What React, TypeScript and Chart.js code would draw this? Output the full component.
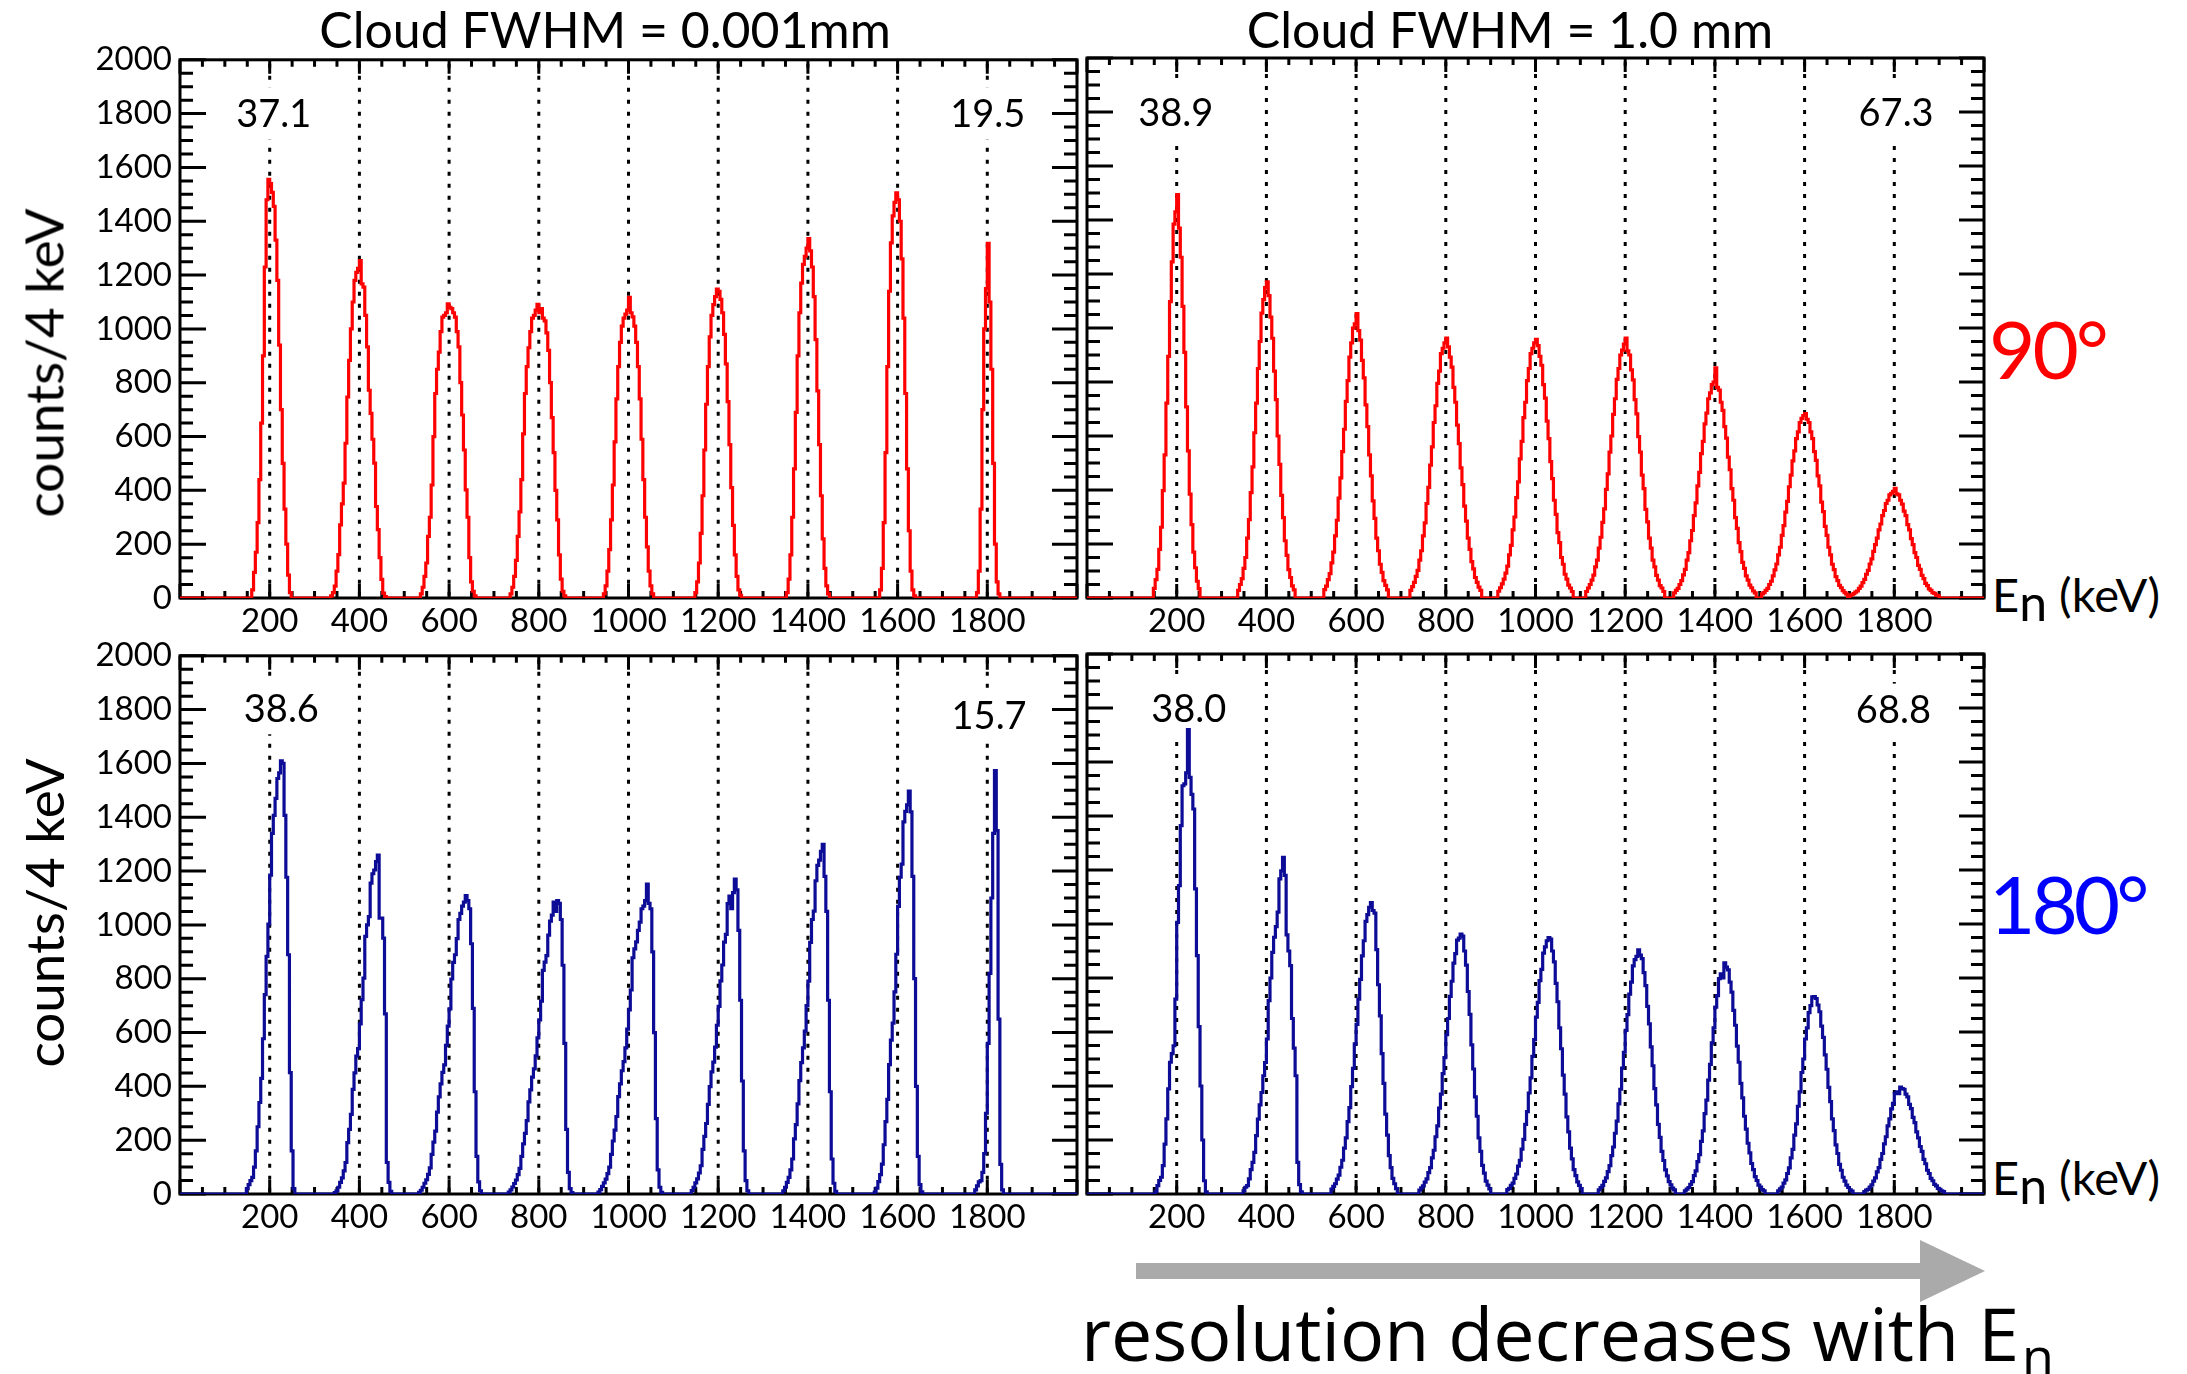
import React, { useEffect, useRef } from "react";
import { Chart, registerables } from "chart.js";

Chart.register(...registerables);

// ---------------- data ----------------
const BIN_WIDTH = 4; // keV per bin
const E_MAX = 2000;
const COUNT_MAX = 2000;
const lineEnergies = [200, 400, 600, 800, 1000, 1200, 1400, 1600, 1800];
const xTickLabels = [200, 400, 600, 800, 1000, 1200, 1400, 1600, 1800];
const yTickLabels = [0, 200, 400, 600, 800, 1000, 1200, 1400, 1600, 1800, 2000];

// 90 deg, cloud FWHM = 0.001 mm  (first bin edge of each peak, then counts per 4 keV bin)
const topLeftStarts = [160, 336, 536, 736, 944, 1148, 1352, 1560, 1776];
const topLeftCounts = [
  [30, 95, 170, 280, 440, 650, 900, 1230, 1480, 1556, 1540, 1507, 1455, 1330, 1180, 940, 700, 500, 330, 200, 85, 20],
  [8, 20, 44, 100, 161, 272, 350, 427, 575, 747, 883, 1000, 1100, 1180, 1210, 1225, 1254, 1167, 1155, 1050, 933, 772, 686, 590, 501, 340, 254, 150, 69, 18, 5],
  [15, 40, 80, 130, 229, 300, 420, 600, 760, 850, 914, 990, 1044, 1050, 1060, 1093, 1080, 1075, 1060, 1044, 990, 933, 800, 680, 550, 402, 300, 150, 60, 25, 8],
  [15, 40, 80, 140, 229, 320, 440, 610, 760, 860, 930, 990, 1040, 1050, 1070, 1091, 1060, 1075, 1040, 1030, 985, 920, 800, 670, 540, 400, 290, 160, 70, 25, 8],
  [15, 45, 100, 180, 290, 420, 580, 740, 860, 950, 1010, 1040, 1055, 1070, 1117, 1060, 1045, 1010, 950, 860, 740, 590, 440, 300, 190, 100, 45, 15],
  [20, 60, 130, 240, 380, 550, 720, 860, 970, 1050, 1090, 1120, 1148, 1140, 1110, 1060, 980, 870, 730, 570, 410, 270, 160, 80, 30, 10],
  [20, 70, 160, 300, 480, 690, 900, 1060, 1170, 1240, 1270, 1300, 1336, 1290, 1230, 1120, 960, 770, 570, 380, 220, 110, 45, 15],
  [30, 110, 280, 540, 860, 1140, 1320, 1420, 1470, 1506, 1480, 1400, 1260, 1040, 760, 480, 250, 100, 30, 8],
  [20, 100, 330, 700, 1000, 1150, 1318, 1100, 850, 500, 200, 60, 15],
];

// 90 deg, cloud FWHM = 1.0 mm
const topRightStarts = [148, 336, 528, 720, 916, 1112, 1308, 1504, 1700];
const topRightCounts = [
  [36, 68, 106, 180, 262, 398, 530, 722, 895, 1098, 1245, 1385, 1430, 1494, 1370, 1262, 1080, 910, 708, 545, 385, 272, 170, 112, 62, 35],
  [28, 50, 72, 110, 150, 222, 290, 390, 486, 612, 722, 850, 950, 1055, 1105, 1150, 1171, 1120, 1040, 962, 840, 735, 600, 495, 380, 298, 212, 158, 105, 76, 45, 30],
  [31, 44, 68, 90, 130, 170, 230, 288, 370, 445, 542, 625, 728, 805, 892, 945, 1000, 1015, 1053, 990, 955, 880, 815, 715, 635, 530, 452, 360, 295, 222, 175, 125, 95, 64, 47, 30],
  [28, 42, 58, 80, 102, 140, 175, 230, 278, 350, 410, 492, 560, 650, 712, 795, 840, 905, 925, 945, 963, 930, 892, 855, 780, 725, 640, 572, 482, 420, 340, 285, 222, 180, 135, 108, 76, 58, 40, 28],
  [25, 38, 52, 70, 92, 118, 160, 195, 252, 300, 372, 430, 515, 580, 668, 725, 805, 850, 905, 925, 945, 958, 935, 895, 862, 790, 740, 655, 590, 505, 442, 362, 310, 242, 205, 150, 125, 88, 70, 48, 37, 24],
  [24, 37, 50, 66, 85, 115, 140, 185, 225, 280, 330, 402, 460, 540, 600, 680, 738, 810, 850, 900, 918, 940, 963, 915, 900, 845, 808, 735, 682, 598, 540, 455, 405, 328, 282, 222, 185, 140, 115, 84, 66, 46, 37, 24],
  [19, 28, 36, 50, 64, 86, 106, 140, 168, 212, 250, 305, 352, 415, 465, 535, 580, 645, 685, 738, 760, 790, 800, 852, 780, 770, 725, 695, 635, 592, 522, 475, 405, 362, 298, 258, 205, 172, 132, 110, 82, 66, 48, 38, 26, 19],
  [15, 20, 28, 36, 50, 62, 82, 104, 126, 160, 188, 232, 268, 318, 358, 412, 455, 508, 545, 590, 615, 650, 665, 676, 683, 662, 650, 615, 590, 542, 510, 452, 415, 355, 320, 265, 232, 188, 160, 125, 105, 79, 64, 47, 38, 27, 20, 14],
  [9, 12, 16, 22, 26, 36, 44, 57, 69, 88, 102, 126, 145, 173, 198, 222, 252, 274, 305, 324, 350, 362, 382, 388, 395, 406, 386, 382, 362, 348, 322, 305, 272, 252, 220, 198, 168, 150, 121, 106, 84, 72, 54, 46, 34, 28, 20, 17, 11, 9],
];

// 180 deg, cloud FWHM = 0.001 mm
const bottomLeftStarts = [148, 344, 532, 732, 932, 1140, 1344, 1548, 1772];
const bottomLeftCounts = [
  [20, 35, 50, 62, 100, 160, 250, 340, 430, 577, 741, 883, 1003, 1185, 1340, 1407, 1470, 1544, 1565, 1610, 1600, 1407, 1177, 889, 451, 160, 20],
  [5, 12, 25, 43, 60, 86, 117, 191, 240, 296, 389, 450, 512, 540, 632, 722, 802, 957, 1000, 1031, 1155, 1190, 1204, 1235, 1259, 1025, 1025, 951, 669, 117, 43, 10],
  [6, 14, 25, 40, 53, 73, 97, 147, 193, 234, 304, 361, 409, 452, 480, 552, 624, 688, 799, 861, 889, 949, 1020, 1043, 1070, 1085, 1109, 1090, 1060, 930, 690, 380, 140, 45, 12],
  [7, 15, 26, 39, 52, 72, 95, 140, 186, 225, 273, 342, 387, 434, 465, 513, 580, 647, 717, 831, 862, 886, 962, 1014, 1036, 1085, 1050, 1090, 1080, 1020, 850, 560, 240, 80, 20, 5],
  [7, 16, 28, 41, 55, 76, 100, 147, 197, 237, 288, 362, 409, 458, 492, 543, 613, 684, 758, 878, 911, 937, 980, 1010, 1060, 1070, 1090, 1152, 1080, 1060, 900, 600, 280, 90, 25, 6],
  [13, 25, 41, 56, 78, 105, 166, 214, 262, 333, 399, 454, 490, 546, 627, 697, 792, 851, 936, 965, 1079, 1107, 1060, 1120, 1170, 1130, 980, 720, 420, 160, 50, 12],
  [12, 25, 43, 62, 90, 130, 205, 258, 335, 421, 488, 543, 605, 700, 791, 935, 1020, 1051, 1164, 1221, 1241, 1273, 1299, 1180, 1050, 720, 380, 130, 40, 10],
  [7, 22, 46, 72, 111, 183, 269, 352, 481, 572, 635, 751, 891, 1069, 1177, 1226, 1383, 1422, 1446, 1497, 1420, 1180, 800, 400, 140, 35, 8],
  [15, 30, 45, 50, 80, 150, 300, 560, 820, 1100, 1340, 1573, 1350, 650, 110, 15],
];

// 180 deg, cloud FWHM = 1.0 mm
const bottomRightStarts = [152, 348, 544, 740, 936, 1140, 1332, 1540, 1732];
const bottomRightCounts = [
  [10, 31, 50, 62, 105, 185, 278, 389, 488, 520, 549, 722, 1006, 1142, 1364, 1512, 1519, 1560, 1720, 1543, 1480, 1426, 1130, 883, 620, 400, 200, 49, 8],
  [12, 25, 31, 56, 90, 117, 154, 216, 277, 330, 376, 438, 487, 574, 716, 800, 895, 951, 990, 1044, 1167, 1197, 1247, 1180, 960, 900, 846, 650, 540, 438, 117, 35, 8],
  [18, 28, 38, 55, 70, 99, 125, 170, 208, 268, 320, 398, 465, 556, 628, 722, 795, 882, 938, 1010, 1035, 1062, 1079, 1050, 1040, 905, 775, 660, 520, 410, 296, 218, 142, 98, 58, 38, 20],
  [14, 23, 30, 44, 56, 79, 98, 134, 162, 212, 252, 318, 370, 446, 505, 590, 650, 732, 788, 855, 890, 940, 948, 963, 955, 900, 848, 750, 665, 552, 463, 360, 288, 208, 158, 106, 77, 48, 33, 19],
  [16, 21, 32, 40, 58, 74, 103, 125, 166, 202, 258, 305, 374, 430, 510, 572, 655, 710, 790, 832, 892, 915, 938, 950, 944, 900, 860, 780, 712, 615, 538, 440, 370, 286, 230, 170, 130, 90, 68, 45, 32, 20],
  [15, 24, 32, 47, 60, 83, 105, 142, 174, 225, 270, 334, 388, 466, 525, 606, 664, 740, 785, 845, 868, 880, 904, 885, 872, 820, 772, 695, 630, 545, 475, 390, 330, 258, 210, 158, 124, 89, 67, 46, 34, 22, 15],
  [12, 18, 24, 36, 46, 68, 86, 120, 146, 195, 234, 298, 348, 422, 480, 560, 615, 692, 735, 798, 815, 800, 856, 840, 830, 785, 748, 680, 625, 548, 488, 410, 356, 288, 240, 188, 152, 113, 90, 64, 50, 33, 26, 16, 12],
  [12, 19, 26, 40, 52, 76, 97, 134, 165, 218, 260, 325, 378, 450, 500, 574, 615, 672, 698, 730, 731, 724, 700, 675, 622, 580, 515, 462, 395, 342, 278, 235, 182, 150, 110, 88, 62, 48, 33, 24, 15, 11],
  [9, 14, 17, 26, 34, 48, 60, 82, 98, 128, 150, 186, 212, 252, 278, 315, 336, 372, 378, 372, 396, 390, 388, 370, 360, 332, 316, 284, 264, 230, 208, 176, 158, 128, 112, 88, 76, 58, 49, 36, 30, 21, 17, 12, 9],
];

// resolution annotations (text, energy, counts)
type Note = { text: string; x: number; y: number };
const topLeftNotes: Note[] = [
  { text: "37.1", x: 209, y: 1800 },
  { text: "19.5", x: 1801, y: 1800 },
];
const topRightNotes: Note[] = [
  { text: "38.9", x: 198, y: 1800 },
  { text: "67.3", x: 1804, y: 1800 },
];
const bottomLeftNotes: Note[] = [
  { text: "38.6", x: 226, y: 1805 },
  { text: "15.7", x: 1804, y: 1780 },
];
const bottomRightNotes: Note[] = [
  { text: "38.0", x: 227, y: 1800 },
  { text: "68.8", x: 1798, y: 1794 },
];

// ---------------- layout / style ----------------
const FRAME_W = 897;
const FRAME_H = 540;
const PAD_T = 26;
const PAD_B = 52;
const PAD_R = 4;
const RED = "#ff0000";
const BLUE = "#0c0c96";
const FONT = "Lato";

function buildHistogram(starts: number[], peaks: number[][]) {
  const n = E_MAX / BIN_WIDTH;
  const bins: number[] = new Array(n).fill(0);
  starts.forEach((s, p) => {
    peaks[p].forEach((v, k) => {
      bins[s / BIN_WIDTH + k] = v;
    });
  });
  const pts = bins.map((v, i) => ({ x: i * BIN_WIDTH, y: v }));
  pts.push({ x: E_MAX, y: bins[n - 1] });
  return pts;
}

function makeDeco(notes: Note[]) {
  return {
    id: "deco",
    beforeDatasetsDraw(chart: any) {
      const { ctx, chartArea: a } = chart;
      const xs = chart.scales.x;
      const ys = chart.scales.y;
      ctx.save();
      // dotted reference lines
      ctx.strokeStyle = "#000";
      ctx.lineWidth = 3;
      ctx.lineCap = "butt";
      ctx.setLineDash([4, 8]);
      lineEnergies.forEach((e) => {
        const px = xs.getPixelForValue(e);
        ctx.beginPath();
        ctx.moveTo(px, a.top + 4);
        ctx.lineTo(px, a.bottom);
        ctx.stroke();
      });
      ctx.setLineDash([]);
      // annotations with white boxes
      const fs = 38;
      ctx.font = `${fs}px ${FONT}`;
      ctx.textAlign = "center";
      ctx.textBaseline = "alphabetic";
      notes.forEach((nt) => {
        const px = xs.getPixelForValue(nt.x);
        const py = ys.getPixelForValue(nt.y);
        const w = ctx.measureText(nt.text).width;
        ctx.fillStyle = "#fff";
        ctx.fillRect(px - w / 2 - 6, py - 26, w + 12, 52);
        ctx.fillStyle = "#000";
        ctx.fillText(nt.text, px, py + fs * 0.36);
      });
      // ticks
      ctx.strokeStyle = "#000";
      ctx.lineWidth = 3;
      ctx.beginPath();
      for (let v = 0; v <= COUNT_MAX; v += 50) {
        const py = ys.getPixelForValue(v);
        const major = v % 200 === 0;
        ctx.moveTo(a.left, py);
        ctx.lineTo(a.left + (major ? 26 : 13), py);
        ctx.moveTo(a.right, py);
        ctx.lineTo(a.right - (major ? 25 : 13), py);
      }
      for (let v = 0; v <= E_MAX; v += 50) {
        const px = xs.getPixelForValue(v);
        const major = v % 200 === 0;
        ctx.moveTo(px, a.bottom);
        ctx.lineTo(px, a.bottom - (major ? 14 : 7));
        ctx.moveTo(px, a.top);
        ctx.lineTo(px, a.top + (major ? 14 : 7));
      }
      ctx.stroke();
      // frame
      ctx.lineWidth = 3;
      ctx.strokeRect(a.left, a.top, a.right - a.left, a.bottom - a.top);
      ctx.restore();
    },
  };
}

type PanelProps = {
  left: number;
  top: number;
  padL: number;
  showY: boolean;
  color: string;
  starts: number[];
  peaks: number[][];
  notes: Note[];
};

function Panel({ left, top, padL, showY, color, starts, peaks, notes }: PanelProps) {
  const ref = useRef<HTMLCanvasElement | null>(null);
  const W = padL + FRAME_W + PAD_R;
  const H = PAD_T + FRAME_H + PAD_B;
  useEffect(() => {
    if (!ref.current) return;
    const chart = new Chart(ref.current, {
      type: "line",
      data: {
        datasets: [
          {
            data: buildHistogram(starts, peaks),
            borderColor: color,
            borderWidth: 3.2,
            pointRadius: 0,
            stepped: true,
            fill: false,
            tension: 0,
          },
        ],
      },
      options: {
        responsive: false,
        animation: false,
        devicePixelRatio: 1,
        events: [],
        layout: { padding: { left: 0, right: PAD_R, top: PAD_T, bottom: 0 } },
        plugins: { legend: { display: false }, tooltip: { enabled: false } },
        scales: {
          x: {
            type: "linear",
            min: 0,
            max: E_MAX,
            grid: { display: false, drawTicks: false },
            border: { display: false },
            ticks: {
              stepSize: 200,
              autoSkip: false,
              maxRotation: 0,
              padding: 4,
              color: "#000",
              font: { family: FONT, size: 33 },
              callback: (v: any) => (xTickLabels.includes(Number(v)) ? String(v) : ""),
            },
            afterFit: (s: any) => {
              s.height = PAD_B;
            },
          },
          y: {
            type: "linear",
            min: 0,
            max: COUNT_MAX,
            grid: { display: false, drawTicks: false },
            border: { display: false },
            ticks: {
              display: showY,
              stepSize: 200,
              padding: 8,
              color: "#000",
              font: { family: FONT, size: 33 },
              callback: (v: any) => (yTickLabels.includes(Number(v)) ? String(v) : ""),
            },
            afterFit: (s: any) => {
              s.width = padL;
            },
          },
        },
      } as any,
      plugins: [makeDeco(notes) as any],
    });
    return () => chart.destroy();
  }, []);
  return (
    <canvas
      ref={ref}
      width={W}
      height={H}
      style={{ position: "absolute", left: left - padL, top: top - PAD_T, width: W, height: H }}
    />
  );
}

const txt: React.CSSProperties = {
  position: "absolute",
  whiteSpace: "nowrap",
  lineHeight: 1,
  color: "#000",
  fontFamily: FONT,
};

export default function App() {
  return (
    <div
      style={{
        position: "absolute",
        left: 0,
        top: 0,
        width: 2187,
        height: 1374,
        overflow: "hidden",
        background: "#fff",
      }}
    >
      <Panel left={180} top={58} padL={110} showY={true} color={RED} starts={topLeftStarts} peaks={topLeftCounts} notes={topLeftNotes} />
      <Panel left={1087} top={58} padL={4} showY={false} color={RED} starts={topRightStarts} peaks={topRightCounts} notes={topRightNotes} />
      <Panel left={180} top={654} padL={110} showY={true} color={BLUE} starts={bottomLeftStarts} peaks={bottomLeftCounts} notes={bottomLeftNotes} />
      <Panel left={1087} top={654} padL={4} showY={false} color={BLUE} starts={bottomRightStarts} peaks={bottomRightCounts} notes={bottomRightNotes} />

      <div style={{ ...txt, fontSize: 50, left: 605, top: 4, transform: "translateX(-50%)" }}>Cloud FWHM = 0.001mm</div>
      <div style={{ ...txt, fontSize: 50, left: 1510, top: 4, transform: "translateX(-50%)" }}>Cloud FWHM = 1.0 mm</div>

      <div style={{ ...txt, fontSize: 53, left: 43, top: 363, transform: "translate(-50%, -50%) rotate(-90deg)" }}>counts/4 keV</div>
      <div style={{ ...txt, fontSize: 53, left: 43, top: 913, transform: "translate(-50%, -50%) rotate(-90deg)" }}>counts/4 keV</div>

      <div style={{ ...txt, fontSize: 80, left: 1989, top: 308, color: "#ff0000", letterSpacing: -3 }}>90°</div>
      <div style={{ ...txt, fontSize: 80, left: 1989, top: 863, color: "#0000ff", letterSpacing: -4 }}>180°</div>

      <div style={{ ...txt, fontSize: 47, left: 1992, top: 571 }}>
        E<span style={{ fontSize: 50, position: "relative", top: 9, lineHeight: 0 }}>n</span> (keV)
      </div>
      <div style={{ ...txt, fontSize: 47, left: 1992, top: 1154 }}>
        E<span style={{ fontSize: 50, position: "relative", top: 9, lineHeight: 0 }}>n</span> (keV)
      </div>

      <svg width={2187} height={1374} style={{ position: "absolute", left: 0, top: 0 }}>
        <rect x={1136} y={1263} width={786} height={16} fill="#aaaaaa" />
        <polygon points="1920,1240 1985,1271 1920,1302" fill="#aaaaaa" />
      </svg>

      <div style={{ ...txt, fontFamily: "Open Sans", fontSize: 73.5, left: 1081, top: 1296 }}>
        resolution decreases with E
        <span style={{ fontSize: 52, position: "relative", top: 14, lineHeight: 0, marginLeft: 3 }}>n</span>
      </div>
    </div>
  );
}
